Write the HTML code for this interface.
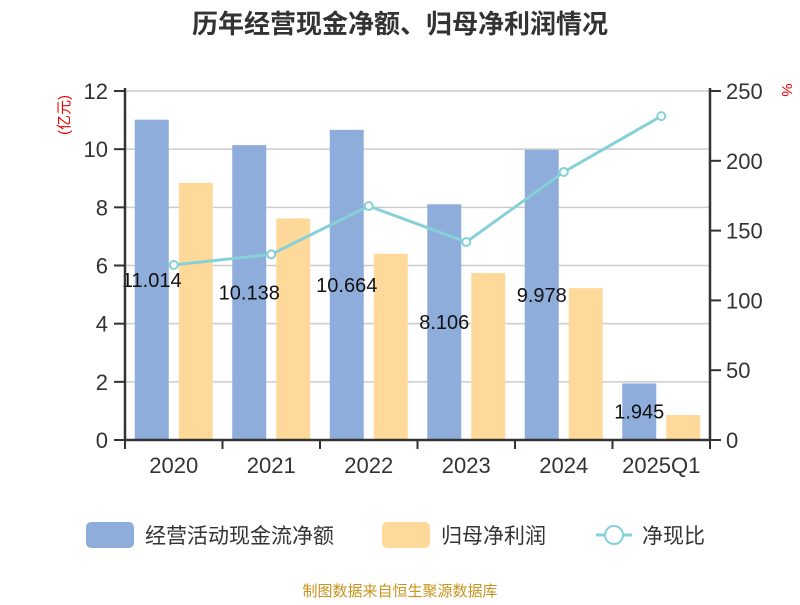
<!DOCTYPE html>
<html><head><meta charset="utf-8"><style>
body{margin:0;background:#fff;}
svg text{font-family:"Liberation Sans","Noto Sans CJK SC",sans-serif;}
</style></head><body>
<svg id="c" width="800" height="600" xmlns="http://www.w3.org/2000/svg">
<text x="400" y="33" text-anchor="middle" font-size="26" font-weight="bold" fill="#333">历年经营现金净额、归母净利润情况</text>
<text transform="translate(69,115) rotate(-90)" text-anchor="middle" font-size="15" fill="#e00">(亿元)</text>
<text transform="translate(782,90) rotate(90)" text-anchor="middle" font-size="15" fill="#e00">%</text>
<g id="grid"></g><g id="bars"></g><g id="line"></g><g id="axes"></g>
<g>
<rect x="86" y="522" width="48" height="26" rx="5" fill="#8eaddb"/>
<text x="145" y="543" font-size="21" fill="#333">经营活动现金流净额</text>
<rect x="382" y="522" width="48" height="26" rx="5" fill="#ffd99a"/>
<text x="441" y="543" font-size="21" fill="#333">归母净利润</text>
<line x1="596" y1="535" x2="632" y2="535" stroke="#86d0d8" stroke-width="3"/>
<circle cx="614" cy="535" r="9" fill="#fff" stroke="#86d0d8" stroke-width="2"/>
<text x="642" y="543" font-size="21" fill="#333">净现比</text>
</g>
<text x="400" y="596" text-anchor="middle" font-size="15" fill="#c8941e">制图数据来自恒生聚源数据库</text>
</svg>
<script>
const categories=["2020","2021","2022","2023","2024","2025Q1"];
const cashflow=[11.014,10.138,10.664,8.106,9.978,1.945];
const profit=[8.84,7.62,6.40,5.74,5.22,0.86];
const ratio=[125.4,133,167.6,141.8,192,232];
const leftTicks=[0,2,4,6,8,10,12];
const rightTicks=[0,50,100,150,200,250];
const NS="http://www.w3.org/2000/svg";
const X0=125,X1=710,Y0=440,Y1=91;
const bw=(X1-X0)/categories.length;
const yL=v=>Y0-(v/12)*(Y0-Y1);
const yR=v=>Y0-(v/250)*(Y0-Y1);
function mk(p,t,a){const e=document.createElementNS(NS,t);for(const k in a)e.setAttribute(k,a[k]);document.getElementById(p).appendChild(e);return e;}
leftTicks.forEach(t=>{
 if(t>0){const g=mk('grid','line',{x1:X0,x2:X1,y1:yL(t),y2:yL(t),stroke:'#ccc','stroke-width':1.5});
 
 }
 const tk=mk('axes','line',{x1:X0-11,x2:X0,y1:yL(t),y2:yL(t),stroke:'#333','stroke-width':2});
 
 
 const l=mk('axes','text',{x:X0-17,y:yL(t)+8,'text-anchor':'end','font-size':22,fill:'#333'});l.textContent=t;
 
 
});
rightTicks.forEach(t=>{
 const tk=mk('axes','line',{x1:X1,x2:X1+11,y1:yR(t),y2:yR(t),stroke:'#333','stroke-width':2});
 
 
 const l=mk('axes','text',{x:X1+16,y:yR(t)+8,'font-size':22,fill:'#333'});l.textContent=t;
 
 
});
let a=mk('axes','line',{x1:X0,x2:X0,y1:Y1-3,y2:Y0,stroke:'#333','stroke-width':2.5});

a=mk('axes','line',{x1:X1,x2:X1,y1:Y1-3,y2:Y0,stroke:'#333','stroke-width':2.5});

a=mk('axes','line',{x1:X0,x2:X1,y1:Y0,y2:Y0,stroke:'#333','stroke-width':2.5});

for(let i=0;i<=categories.length;i++){
 const t=mk('axes','line',{x1:X0+i*bw,x2:X0+i*bw,y1:Y0,y2:Y0+9,stroke:'#333','stroke-width':2});
 
 
}
const pts=[];
categories.forEach((c,i)=>{
 const cx=X0+(i+0.5)*bw;
 const l=mk('axes','text',{x:cx,y:Y0+33,'text-anchor':'middle','font-size':22,fill:'#333'});l.textContent=c;
 
 
 const b1=mk('bars','rect',{x:cx-39,y:yL(cashflow[i]),width:34,height:Y0-yL(cashflow[i]),fill:'#8eaddb'});
 
 
 const b2=mk('bars','rect',{x:cx+5,y:yL(profit[i]),width:34,height:Y0-yL(profit[i]),fill:'#ffd99a'});
 
 
 const v=mk('bars','text',{x:cx-22,y:(yL(cashflow[i])+Y0)/2+7,'text-anchor':'middle','font-size':20,fill:'#111'});v.textContent=cashflow[i].toFixed(3);
 
 
 pts.push([cx,yR(ratio[i])]);
});
const pl=mk('line','polyline',{points:pts.map(p=>p.join(',')).join(' '),fill:'none',stroke:'#86d0d8','stroke-width':3});


pts.forEach(p=>{
 const c=mk('line','circle',{cx:p[0],cy:p[1],r:4,fill:'#fff',stroke:'#86d0d8','stroke-width':2});
 
 
});
</script>
</body></html>
